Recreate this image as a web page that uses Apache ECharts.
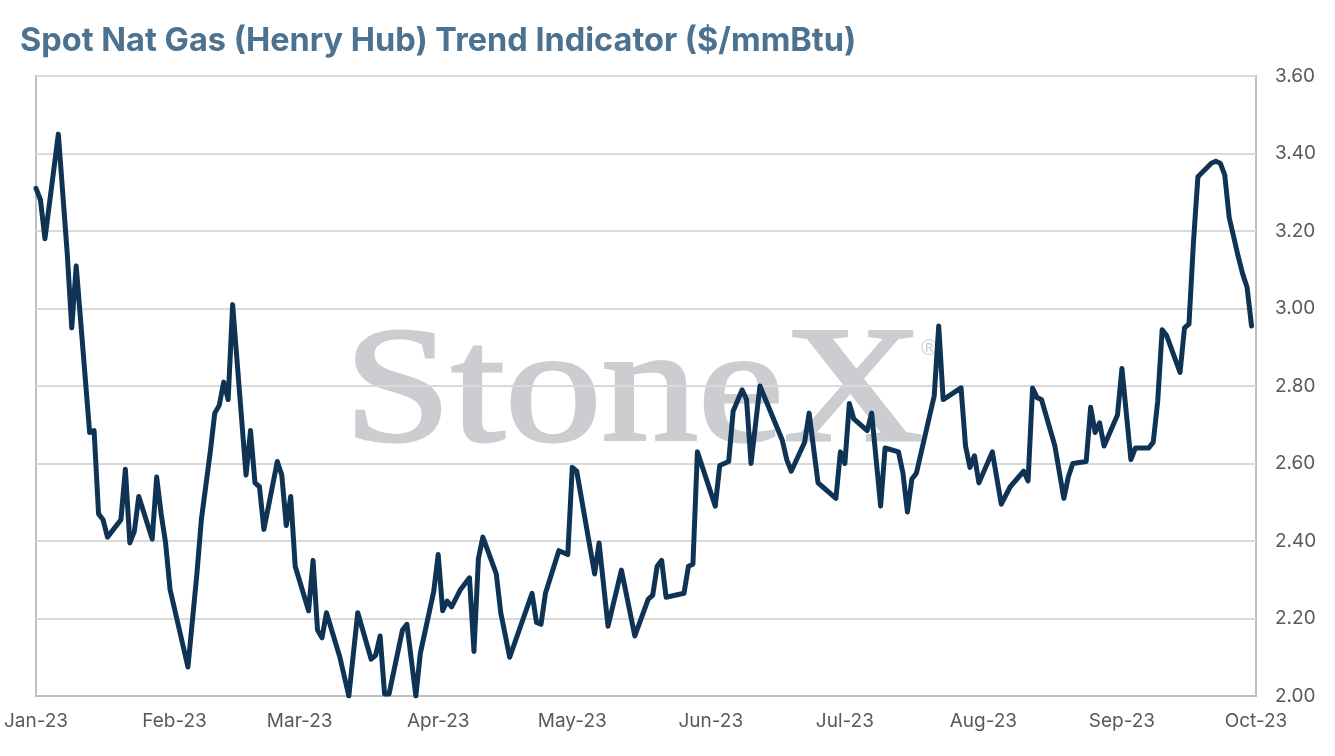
<!DOCTYPE html>
<html>
<head>
<meta charset="utf-8">
<title>Spot Nat Gas (Henry Hub) Trend Indicator</title>
<script src="https://cdn.jsdelivr.net/npm/echarts@6/dist/echarts.min.js"></script>
<style>
  html, body { margin: 0; padding: 0; background: #fff; }
  #chart { width: 1335px; height: 756px; }
</style>
</head>
<body>
<div id="chart"></div>
<script>
// dates (one entry per visible vertex)
const dates = [
  '2023-01-01', '2023-01-02', '2023-01-03', '2023-01-06', '2023-01-08', '2023-01-09', '2023-01-10',
  '2023-01-13', '2023-01-14', '2023-01-15', '2023-01-16', '2023-01-17', '2023-01-20', '2023-01-21',
  '2023-01-22', '2023-01-23', '2023-01-24', '2023-01-27', '2023-01-28', '2023-01-29', '2023-01-30',
  '2023-01-31', '2023-02-04', '2023-02-06', '2023-02-07', '2023-02-09', '2023-02-10', '2023-02-11',
  '2023-02-12', '2023-02-13', '2023-02-14', '2023-02-17', '2023-02-18', '2023-02-19', '2023-02-20',
  '2023-02-21', '2023-02-24', '2023-02-25', '2023-02-26', '2023-02-27', '2023-02-28', '2023-03-03',
  '2023-03-04', '2023-03-05', '2023-03-06', '2023-03-07', '2023-03-10', '2023-03-12', '2023-03-14',
  '2023-03-17', '2023-03-18', '2023-03-19', '2023-03-20', '2023-03-21', '2023-03-24', '2023-03-25',
  '2023-03-27', '2023-03-28', '2023-03-31', '2023-04-01', '2023-04-02', '2023-04-03', '2023-04-04',
  '2023-04-06', '2023-04-08', '2023-04-09', '2023-04-10', '2023-04-11', '2023-04-14', '2023-04-15',
  '2023-04-17', '2023-04-22', '2023-04-23', '2023-04-24', '2023-04-25', '2023-04-28', '2023-04-30',
  '2023-05-01', '2023-05-02', '2023-05-06', '2023-05-07', '2023-05-09', '2023-05-12', '2023-05-15',
  '2023-05-18', '2023-05-19', '2023-05-20', '2023-05-21', '2023-05-22', '2023-05-26', '2023-05-27',
  '2023-05-28', '2023-05-29', '2023-06-02', '2023-06-03', '2023-06-05', '2023-06-06', '2023-06-08',
  '2023-06-09', '2023-06-10', '2023-06-12', '2023-06-17', '2023-06-18', '2023-06-19', '2023-06-22',
  '2023-06-23', '2023-06-25', '2023-06-26', '2023-06-29', '2023-06-30', '2023-07-01', '2023-07-02',
  '2023-07-03', '2023-07-06', '2023-07-07', '2023-07-09', '2023-07-10', '2023-07-13', '2023-07-14',
  '2023-07-15', '2023-07-16', '2023-07-17', '2023-07-21', '2023-07-22', '2023-07-23', '2023-07-27',
  '2023-07-28', '2023-07-29', '2023-07-30', '2023-07-31', '2023-08-03', '2023-08-05', '2023-08-07',
  '2023-08-10', '2023-08-11', '2023-08-12', '2023-08-13', '2023-08-14', '2023-08-17', '2023-08-19',
  '2023-08-20', '2023-08-21', '2023-08-24', '2023-08-25', '2023-08-26', '2023-08-27', '2023-08-28',
  '2023-08-31', '2023-09-01', '2023-09-03', '2023-09-04', '2023-09-07', '2023-09-08', '2023-09-09',
  '2023-09-10', '2023-09-11', '2023-09-14', '2023-09-15', '2023-09-16', '2023-09-17', '2023-09-18',
  '2023-09-21', '2023-09-22', '2023-09-23', '2023-09-24', '2023-09-25', '2023-09-26', '2023-09-27',
  '2023-09-28', '2023-09-29', '2023-09-30'
];

// $/mmBtu
const prices = [
  3.31, 3.28, 3.18, 3.45, 3.14, 2.95, 3.11,
  2.68, 2.685, 2.47, 2.455, 2.41, 2.455, 2.585,
  2.395, 2.425, 2.515, 2.405, 2.565, 2.47, 2.395,
  2.275, 2.075, 2.315, 2.455, 2.63, 2.73, 2.75,
  2.81, 2.765, 3.01, 2.57, 2.685, 2.55, 2.54,
  2.43, 2.605, 2.57, 2.44, 2.515, 2.335, 2.22,
  2.35, 2.17, 2.15, 2.215, 2.10, 2.00, 2.215,
  2.095, 2.105, 2.155, 2.005, 2.005, 2.17, 2.185,
  2.00, 2.11, 2.27, 2.365, 2.22, 2.245, 2.23,
  2.275, 2.305, 2.115, 2.355, 2.41, 2.315, 2.215,
  2.10, 2.265, 2.19, 2.185, 2.265, 2.375, 2.365,
  2.59, 2.58, 2.315, 2.395, 2.18, 2.325, 2.155,
  2.25, 2.26, 2.335, 2.35, 2.255, 2.265, 2.335,
  2.34, 2.63, 2.49, 2.595, 2.605, 2.735, 2.79,
  2.765, 2.60, 2.80, 2.66, 2.61, 2.58, 2.655,
  2.73, 2.55, 2.54, 2.51, 2.63, 2.60, 2.755,
  2.715, 2.685, 2.73, 2.49, 2.64, 2.63, 2.575,
  2.475, 2.56, 2.575, 2.775, 2.955, 2.765, 2.795,
  2.645, 2.59, 2.62, 2.55, 2.63, 2.495, 2.54,
  2.58, 2.555, 2.795, 2.77, 2.765, 2.645, 2.51,
  2.565, 2.60, 2.605, 2.745, 2.68, 2.705, 2.645,
  2.725, 2.845, 2.61, 2.64, 2.64, 2.655, 2.76,
  2.945, 2.93, 2.835, 2.95, 2.96, 3.17, 3.34,
  3.375, 3.38, 3.375, 3.345, 3.235, 3.185, 3.135,
  3.09, 3.055, 2.955
];

// x-axis tick labels sit on the first of each month
const monthTicks = [
  '2023-01-01', '2023-02-01', '2023-03-01', '2023-04-01', '2023-05-01',
  '2023-06-01', '2023-07-01', '2023-08-01', '2023-09-01', '2023-10-01'
];
const monthNames = ['Jan', 'Feb', 'Mar', 'Apr', 'May', 'Jun', 'Jul', 'Aug', 'Sep', 'Oct', 'Nov', 'Dec'];

function toTime(d) {
  return +new Date(d + 'T00:00:00');
}

const chart = echarts.init(document.getElementById('chart'), null, { renderer: 'canvas' });

const option = {
  backgroundColor: '#ffffff',
  animation: false,
  title: {
    text: 'Spot Nat Gas (Henry Hub) Trend Indicator ($/mmBtu)',
    left: 15,
    top: 20,
    textStyle: {
      fontFamily: 'Inter',
      fontWeight: 'bold',
      fontSize: 32.5,
      color: '#4c7290'
    }
  },
  grid: {
    left: 36,
    right: 79,
    top: 76,
    bottom: 60,
    show: true,
    borderColor: '#bfbfbf',
    borderWidth: 2,
    backgroundColor: 'transparent'
  },
  // StoneX watermark behind the plot
  graphic: [
    {
      type: 'text',
      x: 344,
      y: 314,
      scaleX: 1.17,
      z: -10,
      silent: true,
      style: {
        text: 'StoneX',
        font: '165px "Liberation Serif"',
        fill: '#cbcdd1',
        stroke: '#cbcdd1',
        lineWidth: 3
      }
    },
    {
      type: 'text',
      x: 921,
      y: 338,
      z: -10,
      silent: true,
      style: {
        text: '\u00AE',
        font: '22px "Liberation Sans"',
        fill: '#cbcdd1'
      }
    }
  ],
  xAxis: {
    type: 'value',
    min: toTime(monthTicks[0]),
    max: toTime(monthTicks[monthTicks.length - 1]),
    axisLine: { show: true, lineStyle: { color: '#bfbfbf', width: 2 } },
    axisTick: { show: false },
    splitLine: { show: false },
    axisLabel: {
      customValues: monthTicks.map(toTime),
      showMinLabel: true,
      showMaxLabel: true,
      margin: 16,
      fontFamily: 'Inter',
      fontSize: 19,
      color: '#595959',
      formatter: function (val) {
        const d = new Date(val);
        return monthNames[d.getMonth()] + '-' + String(d.getFullYear()).slice(2);
      }
    }
  },
  yAxis: {
    type: 'value',
    position: 'right',
    min: 2.0,
    max: 3.6,
    interval: 0.2,
    axisLine: { show: false },
    axisTick: { show: false },
    splitLine: { show: true, lineStyle: { color: '#d9d9d9', width: 2 } },
    axisLabel: {
      margin: 19,
      fontFamily: 'Inter',
      fontSize: 19,
      color: '#595959',
      formatter: function (v) { return v.toFixed(2); }
    }
  },
  series: [
    {
      name: 'Henry Hub',
      type: 'line',
      data: dates.map(function (d, i) { return [toTime(d), prices[i]]; }),
      showSymbol: false,
      symbol: 'none',
      z: 5,
      lineStyle: {
        color: '#0e3354',
        width: 5,
        join: 'round',
        cap: 'round'
      }
    }
  ]
};

chart.setOption(option);
</script>
</body>
</html>
